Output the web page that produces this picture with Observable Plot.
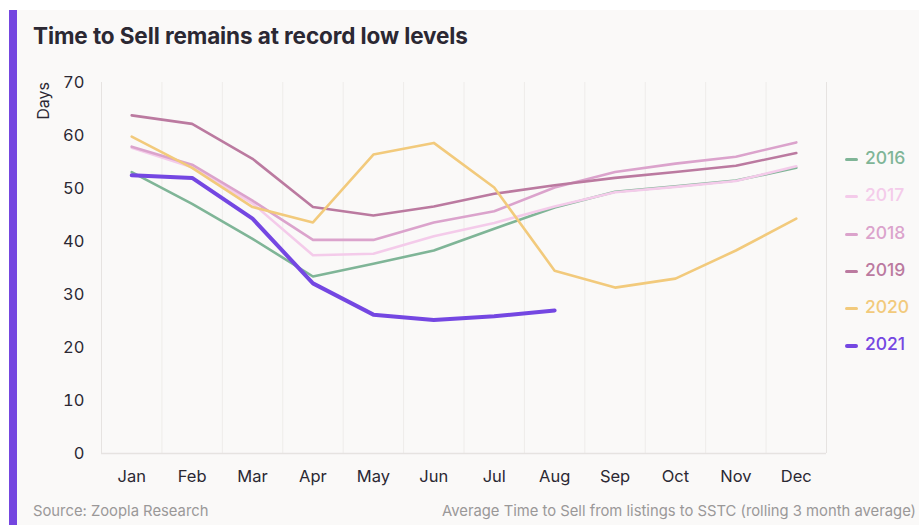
<!DOCTYPE html>
<html>
<head>
<meta charset="utf-8">
<script src="https://cdn.jsdelivr.net/npm/d3@7"></script>
<script src="https://cdn.jsdelivr.net/npm/@observablehq/plot@0.6"></script>
<style>
  html, body { margin: 0; padding: 0; background: #ffffff; width: 919px; height: 525px; overflow: hidden; }
  body { font-family: Inter, "Noto Sans", sans-serif; position: relative; }
  #panel { position: absolute; left: 9px; top: 10px; width: 910px; height: 515px; background: #faf9f8; border-left: 8px solid #7446e0; box-sizing: border-box; }
  #title { position: absolute; left: 33px; top: 22px; font-size: 22.5px; font-weight: 700; color: #2b2833; letter-spacing: -0.1px; }
  #chart { position: absolute; left: 0; top: 0; }
  #ylabel { position: absolute; left: 43px; top: 101px; transform: translate(-50%, -50%) rotate(-90deg); font-size: 16px; color: #2b2833; }
  #legend { position: absolute; left: 845px; top: 147px; }
  .item { height: 37.3px; display: flex; align-items: flex-start; font-size: 17.5px; font-weight: 500; }
  .sw { width: 13px; height: 3px; border-radius: 2px; margin-right: 7px; margin-top: 11px; }
  #source { position: absolute; left: 33px; top: 502px; font-size: 14.8px; color: #9a9898; }
  #note { position: absolute; right: 3px; top: 502px; font-size: 14.8px; color: #9a9898; }
</style>
</head>
<body>
<div id="panel"></div>
<div id="title">Time to Sell remains at record low levels</div>
<div id="chart"></div>
<div id="ylabel">Days</div>
<div id="legend"></div>
<div id="source">Source: Zoopla Research</div>
<div id="note">Average Time to Sell from listings to SSTC (rolling 3 month average)</div>
<script>
const months = ["Jan","Feb","Mar","Apr","May","Jun","Jul","Aug","Sep","Oct","Nov","Dec"];
const years = ["2016","2017","2018","2019","2020","2021"];
const y2016 = [53.1, 47.1, 40.5, 33.4, 35.8, 38.3, 42.4, 46.4, 49.4, 50.4, 51.5, 53.9];
const y2017 = [57.7, 54.0, 47.2, 37.4, 37.7, 41.0, 43.5, 46.6, 49.3, 50.3, 51.4, 54.2];
const y2018 = [57.9, 54.5, 47.7, 40.3, 40.3, 43.6, 45.7, 50.2, 53.1, 54.7, 56.0, 58.7];
const y2019 = [63.8, 62.2, 55.6, 46.5, 44.9, 46.6, 49.0, 50.6, 52.0, 53.1, 54.3, 56.7];
const y2020 = [59.8, 53.9, 46.5, 43.6, 56.4, 58.6, 50.2, 34.5, 31.3, 33.0, 38.3, 44.3];
const y2021 = [52.5, 52.0, 44.3, 32.1, 26.2, 25.2, 25.9, 27.0];
const yTicks = [0, 10, 20, 30, 40, 50, 60, 70];

const series = [y2016, y2017, y2018, y2019, y2020, y2021];
const colors = ["#7fb597", "#f4cbea", "#dba3cc", "#bb7aa0", "#f2ca7c", "#7447e2"];
const widths = [2.6, 2.6, 2.6, 2.6, 2.6, 4];

const rows = [];
series.forEach((vals, s) => vals.forEach((v, i) => rows.push({year: years[s], m: i, v})));

const gridX = months.slice(1).map((_, i) => i + 0.5);

const plot = Plot.plot({
  width: 919,
  height: 493,
  marginLeft: 101,
  marginRight: 93,
  marginTop: 82,
  marginBottom: 40,
  style: { background: "transparent", fontFamily: "Inter, 'Noto Sans', sans-serif", fontSize: "16px", color: "#2b2833" },
  x: { domain: [-0.5, 11.5], ticks: months.map((_, i) => i), tickFormat: i => months[i], tickSize: 0, tickPadding: 17, label: null },
  y: { domain: [0, 70], ticks: yTicks, tickSize: 0, tickPadding: 17, label: null },
  marks: [
    Plot.ruleX(gridX, { stroke: "#eeecea", strokeWidth: 1 }),
    Plot.ruleX([-0.5, 11.5], { stroke: "#e6e3e1", strokeWidth: 1 }),
    Plot.ruleY([0], { stroke: "#e6e3e1", strokeWidth: 1.5 }),
    ...years.map((yr, s) => Plot.line(rows.filter(r => r.year === yr), {
      x: "m", y: "v", stroke: colors[s], strokeWidth: widths[s], strokeLinejoin: "round", strokeLinecap: "round"
    })),
    Plot.axisX({ ticks: months.map((_, i) => i), tickFormat: i => months[i], tickSize: 0, tickPadding: 17, fontSize: 16.5, fill: "#2b2833" }),
    Plot.axisY({ ticks: yTicks, tickSize: 0, tickPadding: 17, fontSize: 16.5, fill: "#2b2833" })
  ]
});
document.getElementById("chart").appendChild(plot);

const legend = document.getElementById("legend");
years.forEach((yr, s) => {
  const it = document.createElement("div");
  it.className = "item";
  it.style.color = colors[s];
  const sw = document.createElement("div");
  sw.className = "sw";
  sw.style.background = colors[s];
  if (s === 5) { sw.style.height = "4px"; sw.style.marginTop = "10.5px"; }
  it.appendChild(sw);
  const t = document.createElement("span");
  t.textContent = yr;
  it.appendChild(t);
  legend.appendChild(it);
});
</script>
</body>
</html>
